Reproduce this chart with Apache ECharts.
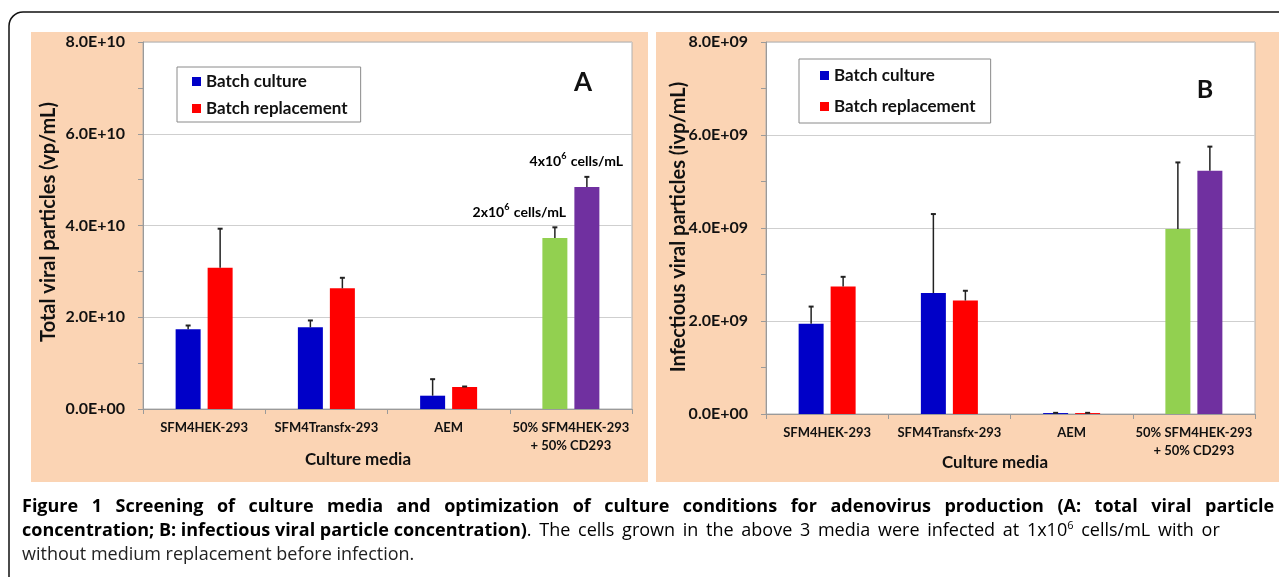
<!DOCTYPE html>
<html><head><meta charset="utf-8">
<script src="https://cdn.jsdelivr.net/npm/echarts@6/dist/echarts.min.js"></script>
<style>html,body{margin:0;padding:0;background:#fff;}#c{width:1279px;height:577px;}</style>
</head><body><div id="c"></div>
<script>
// ---- data ----
const categories = ['SFM4HEK-293', 'SFM4Transfx-293', 'AEM', '50% SFM4HEK-293\n+ 50% CD293'];
const legendNames = ['Batch culture', 'Batch replacement'];
// Panel A: total viral particles (vp/mL)
const totalCulture    = [1.74e10, 1.78e10, 0.29e10, 3.73e10];
const totalCultureErr = [0.08e10, 0.15e10, 0.36e10, 0.23e10];
const totalReplace    = [3.08e10, 2.63e10, 0.48e10, 4.84e10];
const totalReplaceErr = [0.85e10, 0.23e10, 0.01e10, 0.22e10];
// Panel B: infectious viral particles (ivp/mL)
const infCulture    = [1.94e9, 2.60e9, 0.02e9, 3.98e9];
const infCultureErr = [0.37e9, 1.70e9, 0.005e9, 1.43e9];
const infReplace    = [2.74e9, 2.44e9, 0.02e9, 5.23e9];
const infReplaceErr = [0.21e9, 0.21e9, 0.005e9, 0.52e9];
const axisA = {max: 8e10, step: 2e10};
const axisB = {max: 8e9, step: 2e9};
const densityLabels = ['2x10', '4x10'];
const captionLine1 = 'Figure 1 Screening of culture media and optimization of culture conditions for adenovirus production (A: total viral particle';
const captionLine2Bold = 'concentration; B: infectious viral particle concentration)';
const captionLine2a = 'The cells grown in the above 3 media were infected at 1x10';
const captionLine2b = 'cells/mL with or';
const captionLine3 = 'without medium replacement before infection.';

// ---- styling ----
const F = 'Lato';
const CAPF = 'Open Sans';
const BLUE = '#0000C8', RED = '#FF0000', GREEN = '#92D050', PURPLE = '#7030A0';
const PEACH = '#FBD4B4';
const special = 3;

function sci(v) {
  const s = Number(v).toExponential(1).toUpperCase();
  return s.replace(/E([+-])(\d+)$/, function (m, sg, d) { return 'E' + sg + (d.length < 2 ? '0' + d : d); });
}
function barSeries(name, values, axis, color, specialColor) {
  return {
    type: 'bar', name: name, xAxisIndex: axis, yAxisIndex: axis,
    barWidth: 25, barGap: '28%', z: 2,
    itemStyle: {color: color},
    data: values.map(function (v, i) { return i === special ? {value: v, itemStyle: {color: specialColor}} : v; })
  };
}
function errSeries(values, errs, axis, side) {
  return {
    type: 'custom', xAxisIndex: axis, yAxisIndex: axis, z: 3, silent: true,
    encode: {x: 0, y: [1, 2]},
    data: values.map(function (v, i) { return [i, v, v + errs[i]]; }),
    renderItem: function (params, api) {
      const base = api.coord([api.value(0), api.value(1)]);
      const top = api.coord([api.value(0), api.value(2)]);
      const x = base[0] + side * 16;
      return {type: 'group', children: [
        {type: 'line', shape: {x1: x, y1: base[1], x2: x, y2: top[1]}, style: {stroke: '#222', lineWidth: 1.5}},
        {type: 'line', shape: {x1: x - 2.5, y1: top[1], x2: x + 2.5, y2: top[1]}, style: {stroke: '#222', lineWidth: 2}}
      ]};
    }
  };
}
function xAxis(idx) {
  return {
    type: 'category', gridIndex: idx, data: categories,
    axisLine: {lineStyle: {color: '#9a9a9a'}},
    axisTick: {show: true, length: 5, lineStyle: {color: '#9a9a9a'}},
    axisLabel: {fontFamily: F, fontWeight: 'bold', fontSize: 13, color: '#111', margin: 10, lineHeight: 18, interval: 0}
  };
}
function yAxis(idx, ax) {
  return {
    type: 'value', gridIndex: idx, min: 0, max: ax.max, interval: ax.step,
    axisLine: {show: true, lineStyle: {color: '#9a9a9a'}},
    axisTick: {show: true, length: 5, lineStyle: {color: '#9a9a9a'}},
    minorTick: {show: true, splitNumber: 2, length: 5, lineStyle: {color: '#9a9a9a'}},
    splitLine: {lineStyle: {color: '#cfcfcf'}},
    axisLabel: {fontFamily: F, fontWeight: 'bold', fontSize: 16, color: '#111', margin: 18, formatter: sci}
  };
}
function legend(left, top, padding, gap) {
  return {
    data: legendNames, orient: 'vertical', left: left, top: top,
    padding: padding, itemGap: gap, icon: 'rect', itemWidth: 9, itemHeight: 9,
    borderColor: '#8a8a8a', borderWidth: 1, backgroundColor: '#fff',
    textStyle: {fontFamily: F, fontWeight: 'bold', fontSize: 17, color: '#111'},
    selectedMode: false
  };
}
function txt(x, y, text, font, extra) {
  return Object.assign({type: 'text', x: x, y: y, z: 50,
    style: {text: text, font: font, fill: '#111', align: 'center', verticalAlign: 'middle'}}, extra || {});
}
function spaced(str, tok, gapTok) {
  return str.split(' ').map(function (w) { return '{' + tok + '|' + w + '}'; }).join('{' + gapTok + '| }');
}
const supRich = {
  n: {fontFamily: F, fontWeight: 'bold', fontSize: 14, color: '#111', lineHeight: 18},
  s: {fontFamily: F, fontWeight: 'bold', fontSize: 9, color: '#111', verticalAlign: 'top', lineHeight: 18, padding: [0, 1, 6, 0]}
};
const capRich = {
  b: {fontFamily: CAPF, fontWeight: 'bold', fontSize: 18, color: '#111', lineHeight: 22},
  gb: {fontFamily: CAPF, fontWeight: 'bold', fontSize: 18, lineHeight: 22, width: 13.5},
  r: {fontFamily: CAPF, fontWeight: 'normal', fontSize: 18, color: '#222', lineHeight: 22},
  gr: {fontFamily: CAPF, fontWeight: 'normal', fontSize: 18, lineHeight: 22, width: 7.7},
  s: {fontFamily: CAPF, fontWeight: 'normal', fontSize: 11, color: '#222', verticalAlign: 'top', lineHeight: 22, padding: [0, 0, 8, 0]}
};

const chart = echarts.init(document.getElementById('c'));
chart.setOption({
  animation: false,
  grid: [
    {left: 143, top: 42, width: 489, height: 367, show: true, backgroundColor: '#fff', borderColor: '#b0b0b0', borderWidth: 1},
    {left: 766, top: 42, width: 489, height: 372, show: true, backgroundColor: '#fff', borderColor: '#b0b0b0', borderWidth: 1}
  ],
  xAxis: [xAxis(0), xAxis(1)],
  yAxis: [yAxis(0, axisA), yAxis(1, axisB)],
  legend: [legend(177, 67, [6, 13, 5, 15], 10), legend(799, 59, [8, 15, 8, 21], 14)],
  series: [
    barSeries(legendNames[0], totalCulture, 0, BLUE, GREEN),
    barSeries(legendNames[1], totalReplace, 0, RED, PURPLE),
    errSeries(totalCulture, totalCultureErr, 0, -1),
    errSeries(totalReplace, totalReplaceErr, 0, 1),
    barSeries(legendNames[0], infCulture, 1, BLUE, GREEN),
    barSeries(legendNames[1], infReplace, 1, RED, PURPLE),
    errSeries(infCulture, infCultureErr, 1, -1),
    errSeries(infReplace, infReplaceErr, 1, 1)
  ],
  graphic: [
    {type: 'rect', z: -10, shape: {x: 9, y: 12, width: 1300, height: 600, r: 14}, style: {fill: '#fff', stroke: '#111', lineWidth: 1.5}},
    {type: 'rect', z: -9, shape: {x: 31, y: 32, width: 617, height: 450}, style: {fill: PEACH}},
    {type: 'rect', z: -9, shape: {x: 656, y: 32, width: 640, height: 450}, style: {fill: PEACH}},
    txt(49, 222, 'Total viral particles (vp/mL)', 'bold 20px ' + F, {rotation: Math.PI / 2}),
    txt(679, 227, 'Infectious viral particles (ivp/mL)', 'bold 20px ' + F, {rotation: Math.PI / 2}),
    txt(358, 460, 'Culture media', 'bold 17px ' + F),
    txt(995, 463, 'Culture media', 'bold 17px ' + F),
    txt(583, 83, 'A', 'bold 26px ' + F),
    txt(1205, 90, 'B', 'bold 25px ' + F),
    {type: 'text', z: 50, x: 566, y: 212, style: {text: '{n|' + densityLabels[0] + '}{s|6}{n| cells/mL}', rich: supRich, align: 'right', verticalAlign: 'middle'}},
    {type: 'text', z: 50, x: 623, y: 161, style: {text: '{n|' + densityLabels[1] + '}{s|6}{n| cells/mL}', rich: supRich, align: 'right', verticalAlign: 'middle'}},
    {type: 'text', z: 50, x: 22, y: 507, style: {
      text: spaced(captionLine1, 'b', 'gb'), align: 'left', verticalAlign: 'middle', rich: capRich}},
    {type: 'text', z: 50, x: 22, y: 531, style: {
      text: '{b|' + captionLine2Bold + '}{r|.}{gr| }' + spaced(captionLine2a, 'r', 'gr') + '{s|6}{gr| }' + spaced(captionLine2b, 'r', 'gr'),
      align: 'left', verticalAlign: 'middle', rich: capRich}},
    {type: 'text', z: 50, x: 22, y: 555, style: {
      text: captionLine3, align: 'left', verticalAlign: 'middle',
      font: '18px ' + CAPF, fill: '#222'}}
  ]
});
</script></body></html>
